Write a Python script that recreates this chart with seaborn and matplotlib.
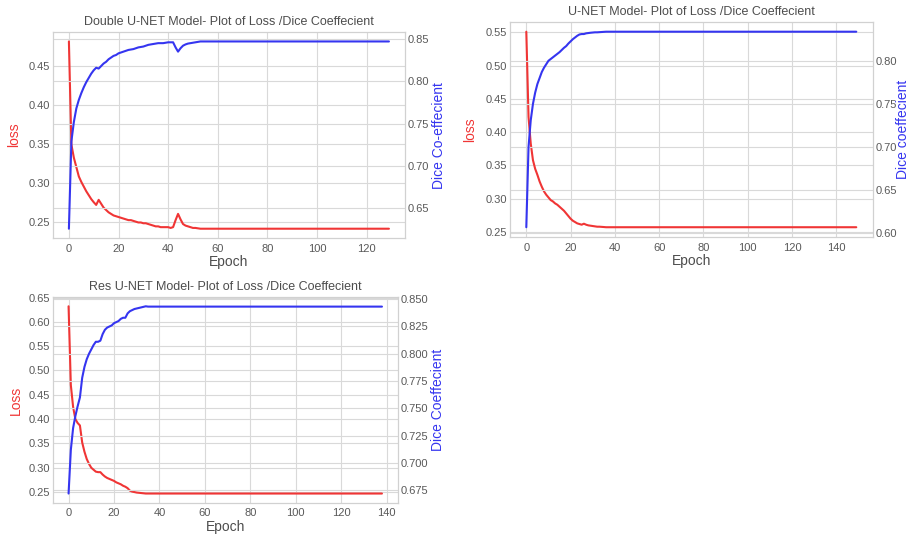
import numpy as np
import matplotlib
matplotlib.use("Agg")
import matplotlib.pyplot as plt
import seaborn as sns

# ---- Double U-NET (130 epochs) ----
dbl_loss = [
    0.482, 0.350, 0.333, 0.321, 0.309, 0.302, 0.296, 0.290, 0.285, 0.280,
    0.276, 0.2725, 0.279, 0.274, 0.269, 0.266, 0.263, 0.261, 0.259, 0.258,
    0.257, 0.256, 0.255, 0.254, 0.253, 0.253, 0.252, 0.251, 0.250, 0.250,
    0.249, 0.249, 0.248, 0.247, 0.246, 0.245, 0.245, 0.244, 0.244, 0.244,
    0.244, 0.243, 0.244, 0.253, 0.261, 0.254, 0.248, 0.246, 0.245, 0.244,
    0.243, 0.243, 0.2425, 0.242, 0.242, 0.242, 0.242, 0.242, 0.242, 0.242,
    0.242, 0.242, 0.242, 0.242, 0.242, 0.242, 0.242, 0.242, 0.242, 0.242,
    0.242, 0.242, 0.242, 0.242, 0.242, 0.242, 0.242, 0.242, 0.242, 0.242,
    0.242, 0.242, 0.242, 0.242, 0.242, 0.242, 0.242, 0.242, 0.242, 0.242,
    0.242, 0.242, 0.242, 0.242, 0.242, 0.242, 0.242, 0.242, 0.242, 0.242,
    0.242, 0.242, 0.242, 0.242, 0.242, 0.242, 0.242, 0.242, 0.242, 0.242,
    0.242, 0.242, 0.242, 0.242, 0.242, 0.242, 0.242, 0.242, 0.242, 0.242,
    0.242, 0.242, 0.242, 0.242, 0.242, 0.242, 0.242, 0.242, 0.242, 0.242,
]
dbl_dice = [
    0.626, 0.729, 0.752, 0.768, 0.778, 0.786, 0.793, 0.799, 0.804, 0.809,
    0.813, 0.816, 0.815, 0.818, 0.821, 0.823, 0.826, 0.828, 0.830, 0.831,
    0.833, 0.834, 0.835, 0.836, 0.837, 0.8375, 0.838, 0.839, 0.840, 0.8405,
    0.841, 0.842, 0.843, 0.8435, 0.844, 0.8445, 0.845, 0.845, 0.845, 0.8455,
    0.846, 0.846, 0.846, 0.840, 0.835, 0.839, 0.842, 0.8435, 0.8445, 0.845,
    0.8455, 0.846, 0.8465, 0.847, 0.847, 0.847, 0.847, 0.847, 0.847, 0.847,
    0.847, 0.847, 0.847, 0.847, 0.847, 0.847, 0.847, 0.847, 0.847, 0.847,
    0.847, 0.847, 0.847, 0.847, 0.847, 0.847, 0.847, 0.847, 0.847, 0.847,
    0.847, 0.847, 0.847, 0.847, 0.847, 0.847, 0.847, 0.847, 0.847, 0.847,
    0.847, 0.847, 0.847, 0.847, 0.847, 0.847, 0.847, 0.847, 0.847, 0.847,
    0.847, 0.847, 0.847, 0.847, 0.847, 0.847, 0.847, 0.847, 0.847, 0.847,
    0.847, 0.847, 0.847, 0.847, 0.847, 0.847, 0.847, 0.847, 0.847, 0.847,
    0.847, 0.847, 0.847, 0.847, 0.847, 0.847, 0.847, 0.847, 0.847, 0.847,
]

# ---- U-NET (150 epochs) ----
unet_loss = [
    0.551, 0.423, 0.383, 0.358, 0.345, 0.336, 0.326, 0.318, 0.311, 0.306,
    0.302, 0.298, 0.296, 0.293, 0.291, 0.288, 0.285, 0.282, 0.278, 0.274,
    0.270, 0.267, 0.265, 0.263, 0.262, 0.261, 0.2625, 0.261, 0.260, 0.2595,
    0.259, 0.2585, 0.258, 0.258, 0.2578, 0.2575, 0.2572, 0.2572, 0.2572, 0.2572,
    0.2572, 0.2572, 0.2572, 0.2572, 0.2572, 0.2572, 0.2572, 0.2572, 0.2572, 0.2572,
    0.2572, 0.2572, 0.2572, 0.2572, 0.2572, 0.2572, 0.2572, 0.2572, 0.2572, 0.2572,
    0.2572, 0.2572, 0.2572, 0.2572, 0.2572, 0.2572, 0.2572, 0.2572, 0.2572, 0.2572,
    0.2572, 0.2572, 0.2572, 0.2572, 0.2572, 0.2572, 0.2572, 0.2572, 0.2572, 0.2572,
    0.2572, 0.2572, 0.2572, 0.2572, 0.2572, 0.2572, 0.2572, 0.2572, 0.2572, 0.2572,
    0.2572, 0.2572, 0.2572, 0.2572, 0.2572, 0.2572, 0.2572, 0.2572, 0.2572, 0.2572,
    0.2572, 0.2572, 0.2572, 0.2572, 0.2572, 0.2572, 0.2572, 0.2572, 0.2572, 0.2572,
    0.2572, 0.2572, 0.2572, 0.2572, 0.2572, 0.2572, 0.2572, 0.2572, 0.2572, 0.2572,
    0.2572, 0.2572, 0.2572, 0.2572, 0.2572, 0.2572, 0.2572, 0.2572, 0.2572, 0.2572,
    0.2572, 0.2572, 0.2572, 0.2572, 0.2572, 0.2572, 0.2572, 0.2572, 0.2572, 0.2572,
    0.2572, 0.2572, 0.2572, 0.2572, 0.2572, 0.2572, 0.2572, 0.2572, 0.2572, 0.2572,
]
unet_dice = [
    0.607, 0.700, 0.731, 0.750, 0.763, 0.773, 0.780, 0.787, 0.792, 0.796,
    0.800, 0.802, 0.804, 0.806, 0.808, 0.810, 0.8125, 0.815, 0.817, 0.820,
    0.8225, 0.825, 0.827, 0.829, 0.8305, 0.831, 0.831, 0.8318, 0.8322, 0.8325,
    0.8328, 0.833, 0.833, 0.8332, 0.8334, 0.8335, 0.8337, 0.8337, 0.8337, 0.8337,
    0.8337, 0.8337, 0.8337, 0.8337, 0.8337, 0.8337, 0.8337, 0.8337, 0.8337, 0.8337,
    0.8337, 0.8337, 0.8337, 0.8337, 0.8337, 0.8337, 0.8337, 0.8337, 0.8337, 0.8337,
    0.8337, 0.8337, 0.8337, 0.8337, 0.8337, 0.8337, 0.8337, 0.8337, 0.8337, 0.8337,
    0.8337, 0.8337, 0.8337, 0.8337, 0.8337, 0.8337, 0.8337, 0.8337, 0.8337, 0.8337,
    0.8337, 0.8337, 0.8337, 0.8337, 0.8337, 0.8337, 0.8337, 0.8337, 0.8337, 0.8337,
    0.8337, 0.8337, 0.8337, 0.8337, 0.8337, 0.8337, 0.8337, 0.8337, 0.8337, 0.8337,
    0.8337, 0.8337, 0.8337, 0.8337, 0.8337, 0.8337, 0.8337, 0.8337, 0.8337, 0.8337,
    0.8337, 0.8337, 0.8337, 0.8337, 0.8337, 0.8337, 0.8337, 0.8337, 0.8337, 0.8337,
    0.8337, 0.8337, 0.8337, 0.8337, 0.8337, 0.8337, 0.8337, 0.8337, 0.8337, 0.8337,
    0.8337, 0.8337, 0.8337, 0.8337, 0.8337, 0.8337, 0.8337, 0.8337, 0.8337, 0.8337,
    0.8337, 0.8337, 0.8337, 0.8337, 0.8337, 0.8337, 0.8337, 0.8337, 0.8337, 0.8337,
]

# ---- Res U-NET (139 epochs) ----
res_loss = [
    0.632, 0.470, 0.425, 0.400, 0.392, 0.387, 0.352, 0.333, 0.318, 0.308,
    0.300, 0.296, 0.292, 0.291, 0.291, 0.286, 0.282, 0.279, 0.277, 0.275,
    0.273, 0.270, 0.268, 0.266, 0.263, 0.261, 0.258, 0.253, 0.251, 0.250,
    0.249, 0.2485, 0.248, 0.2475, 0.247, 0.247, 0.247, 0.247, 0.247, 0.247,
    0.247, 0.247, 0.247, 0.247, 0.247, 0.247, 0.247, 0.247, 0.247, 0.247,
    0.247, 0.247, 0.247, 0.247, 0.247, 0.247, 0.247, 0.247, 0.247, 0.247,
    0.247, 0.247, 0.247, 0.247, 0.247, 0.247, 0.247, 0.247, 0.247, 0.247,
    0.247, 0.247, 0.247, 0.247, 0.247, 0.247, 0.247, 0.247, 0.247, 0.247,
    0.247, 0.247, 0.247, 0.247, 0.247, 0.247, 0.247, 0.247, 0.247, 0.247,
    0.247, 0.247, 0.247, 0.247, 0.247, 0.247, 0.247, 0.247, 0.247, 0.247,
    0.247, 0.247, 0.247, 0.247, 0.247, 0.247, 0.247, 0.247, 0.247, 0.247,
    0.247, 0.247, 0.247, 0.247, 0.247, 0.247, 0.247, 0.247, 0.247, 0.247,
    0.247, 0.247, 0.247, 0.247, 0.247, 0.247, 0.247, 0.247, 0.247, 0.247,
    0.247, 0.247, 0.247, 0.247, 0.247, 0.247, 0.247, 0.247, 0.247,
]
res_dice = [
    0.672, 0.712, 0.732, 0.743, 0.752, 0.760, 0.778, 0.788, 0.795, 0.800,
    0.804, 0.808, 0.811, 0.811, 0.812, 0.818, 0.822, 0.824, 0.825, 0.826,
    0.828, 0.829, 0.830, 0.832, 0.833, 0.833, 0.837, 0.839, 0.840, 0.841,
    0.8415, 0.842, 0.8425, 0.843, 0.8435, 0.8432, 0.8432, 0.8432, 0.8432, 0.8432,
    0.8432, 0.8432, 0.8432, 0.8432, 0.8432, 0.8432, 0.8432, 0.8432, 0.8432, 0.8432,
    0.8432, 0.8432, 0.8432, 0.8432, 0.8432, 0.8432, 0.8432, 0.8432, 0.8432, 0.8432,
    0.8432, 0.8432, 0.8432, 0.8432, 0.8432, 0.8432, 0.8432, 0.8432, 0.8432, 0.8432,
    0.8432, 0.8432, 0.8432, 0.8432, 0.8432, 0.8432, 0.8432, 0.8432, 0.8432, 0.8432,
    0.8432, 0.8432, 0.8432, 0.8432, 0.8432, 0.8432, 0.8432, 0.8432, 0.8432, 0.8432,
    0.8432, 0.8432, 0.8432, 0.8432, 0.8432, 0.8432, 0.8432, 0.8432, 0.8432, 0.8432,
    0.8432, 0.8432, 0.8432, 0.8432, 0.8432, 0.8432, 0.8432, 0.8432, 0.8432, 0.8432,
    0.8432, 0.8432, 0.8432, 0.8432, 0.8432, 0.8432, 0.8432, 0.8432, 0.8432, 0.8432,
    0.8432, 0.8432, 0.8432, 0.8432, 0.8432, 0.8432, 0.8432, 0.8432, 0.8432, 0.8432,
    0.8432, 0.8432, 0.8432, 0.8432, 0.8432, 0.8432, 0.8432, 0.8432, 0.8432,
]

titles = ["Double U-NET Model- Plot of Loss /Dice Coeffecient",
          "U-NET Model- Plot of Loss /Dice Coeffecient",
          "Res U-NET Model- Plot of Loss /Dice Coeffecient"]
loss_labels = ["loss", "loss", "Loss"]
dice_labels = ["Dice Co-effecient", "Dice coeffecient", "Dice Coeffecient"]

sns.set_style("whitegrid", {"grid.color": ".85", "axes.edgecolor": ".82"})
plt.rcParams["font.family"] = ["Liberation Sans", "DejaVu Sans"]

RED = "#f03535"
BLUE = "#3535f0"

fig = plt.figure(figsize=(9.12, 5.35), dpi=100)
rects = [[0.058, 0.555, 0.386, 0.385],
         [0.559, 0.557, 0.398, 0.402],
         [0.058, 0.060, 0.378, 0.385]]
# y-label anchor positions in axes fraction (left label, right label)
label_x = [(-0.091, 1.077), (-0.091, 1.063), (-0.088, 1.096)]
series = [(dbl_loss, dbl_dice), (unet_loss, unet_dice), (res_loss, res_dice)]

for i, (loss, dice) in enumerate(series):
    ax = fig.add_axes(rects[i])
    ax2 = ax.twinx()
    sns.lineplot(x=np.arange(len(loss)), y=loss, ax=ax, color=RED, linewidth=1.5)
    sns.lineplot(x=np.arange(len(dice)), y=dice, ax=ax2, color=BLUE, linewidth=1.5)
    ax2.grid(True, color=".85")
    ax.set_title(titles[i], fontsize=9, color=".3", pad=5)
    ax.set_xlabel("Epoch", fontsize=10, color=".3", labelpad=1)
    ax.set_ylabel(loss_labels[i], fontsize=10, color=RED)
    ax2.set_ylabel(dice_labels[i], fontsize=10, color=BLUE)
    ax.yaxis.set_label_coords(label_x[i][0], 0.5)
    ax2.yaxis.set_label_coords(label_x[i][1], 0.5)
    for a in (ax, ax2):
        a.tick_params(axis="y", labelsize=8, colors=".35", length=0, pad=2)
        a.tick_params(axis="x", labelsize=8, colors=".35", length=0, pad=4)
        for s in a.spines.values():
            s.set_color(".82")

fig.savefig("out.png", dpi=100)
